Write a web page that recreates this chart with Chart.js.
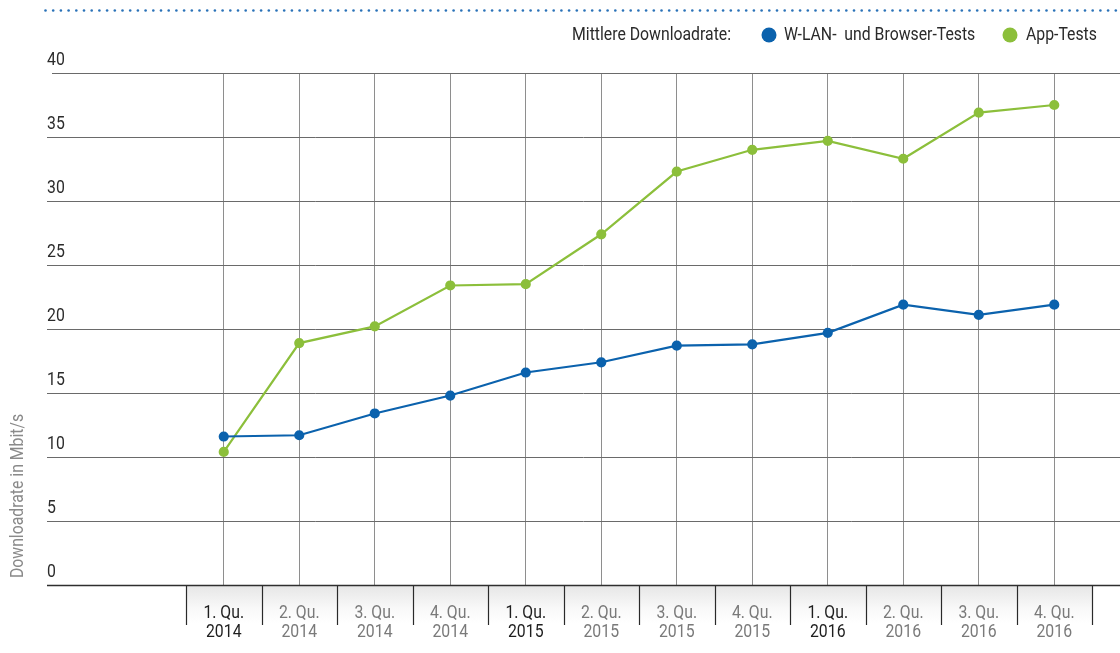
<!DOCTYPE html>
<html>
<head>
<meta charset="utf-8">
<script src="https://cdn.jsdelivr.net/npm/chart.js@4"></script>
<style>
  html, body { margin: 0; padding: 0; background: #fff; }
  #wrap { width: 1120px; height: 653px; position: relative; }
</style>
</head>
<body>
<div id="wrap"><canvas id="c" width="1120" height="653"></canvas></div>
<script>
// ---- data ----
const quarters = ["1. Qu.","2. Qu.","3. Qu.","4. Qu.","1. Qu.","2. Qu.","3. Qu.","4. Qu.","1. Qu.","2. Qu.","3. Qu.","4. Qu."];
const years = ["2014","2014","2014","2014","2015","2015","2015","2015","2016","2016","2016","2016"];
const wlanBrowserTests = [11.6, 11.7, 13.4, 14.8, 16.6, 17.4, 18.7, 18.8, 19.7, 21.9, 21.1, 21.9];
const appTests = [10.4, 18.9, 20.2, 23.4, 23.5, 27.4, 32.3, 34.0, 34.7, 33.3, 36.9, 37.5];
const yTicks = [0, 5, 10, 15, 20, 25, 30, 35, 40];
const legendTitle = "Mittlere Downloadrate:";
const seriesNames = ["W-LAN-  und Browser-Tests", "App-Tests"];
const yTitle = "Downloadrate in Mbit/s";

const BLUE = "#0b62ad";
const GREEN = "#8cbf3b";
const FONT = "400 18px Roboto, 'Noto Sans', sans-serif";
let SX = 0.8; // horizontal condensing factor, computed from legend title width

const labels = quarters.map((q, i) => [q, years[i]]);

function txt(ctx, s, x, y, align, color) {
  ctx.save();
  ctx.font = FONT;
  ctx.fillStyle = color;
  ctx.textAlign = align;
  ctx.translate(x, y);
  ctx.scale(SX, 1);
  ctx.fillText(s, 0, 0);
  ctx.restore();
}

const decor = {
  id: "decor",
  beforeDatasetsDraw(chart) {
    const ctx = chart.ctx;
    const y = chart.scales.y;
    ctx.save();
    ctx.font = FONT;
    SX = 159 / ctx.measureText(legendTitle).width;
    yTicks.forEach(v => {
      if (v === 0) return;
      const py = Math.round(y.getPixelForValue(v)) + 0.5;
      ctx.beginPath();
      ctx.strokeStyle = "#6a6a6a";
      ctx.lineWidth = 1;
      ctx.moveTo(v === 40 ? 52 : 47, py);
      ctx.lineTo(1120, py);
      ctx.stroke();
    });
    ctx.restore();
  },
  afterDraw(chart) {
    const ctx = chart.ctx;
    const y = chart.scales.y;
    const x = chart.scales.x;
    ctx.save();
    ctx.textBaseline = "alphabetic";
    // y tick labels
    yTicks.forEach(v => {
      const py = y.getPixelForValue(v);
      txt(ctx, String(v), 47, py - 8, "left", "#2b2b2b");
    });
    // y title
    ctx.save();
    ctx.translate(23, 496);
    ctx.rotate(-Math.PI / 2);
    txt(ctx, yTitle, 0, 0, "center", "#8a8a8a");
    ctx.restore();
    // category boxes
    const bottom = Math.round(y.getPixelForValue(0));
    const n = labels.length;
    const step = x.getPixelForValue(1) - x.getPixelForValue(0);
    const x0 = x.getPixelForValue(0) - step / 2;
    const g = ctx.createLinearGradient(0, bottom, 0, bottom + 38);
    g.addColorStop(0, "#e6e6e6");
    g.addColorStop(0.6, "#f8f8f8");
    g.addColorStop(1, "#ffffff");
    ctx.fillStyle = g;
    ctx.fillRect(x0, bottom + 1, step * n, 38);
    ctx.strokeStyle = "#2a2a2a";
    ctx.lineWidth = 1.2;
    for (let i = 0; i <= n; i++) {
      const px = Math.round(x0 + i * step) + 0.5;
      ctx.beginPath();
      ctx.moveTo(px, bottom);
      ctx.lineTo(px, bottom + 40);
      ctx.stroke();
    }
    // axis line
    ctx.beginPath();
    ctx.strokeStyle = "#2e2e2e";
    ctx.lineWidth = 1.5;
    ctx.moveTo(47, bottom + 0.5);
    ctx.lineTo(1120, bottom + 0.5);
    ctx.stroke();
    for (let i = 0; i < n; i++) {
      const cx = x.getPixelForValue(i);
      const col = quarters[i].startsWith("1.") ? "#1e1e1e" : "#7a7a7a";
      txt(ctx, labels[i][0], cx, bottom + 33, "center", col);
      txt(ctx, labels[i][1], cx, bottom + 52, "center", col);
    }
    // top dotted line
    ctx.fillStyle = "#2a72b8";
    for (let px = 45.5; px < 1120; px += 7.7) {
      ctx.beginPath();
      ctx.arc(px, 10.5, 1.3, 0, Math.PI * 2);
      ctx.fill();
    }
    // legend
    ctx.textBaseline = "middle";
    txt(ctx, legendTitle, 572, 35, "left", "#2a2a2a");
    ctx.fillStyle = BLUE;
    ctx.beginPath(); ctx.arc(769, 35, 7.5, 0, Math.PI * 2); ctx.fill();
    txt(ctx, seriesNames[0], 784, 35, "left", "#2a2a2a");
    ctx.fillStyle = GREEN;
    ctx.beginPath(); ctx.arc(1010, 35, 7.5, 0, Math.PI * 2); ctx.fill();
    txt(ctx, seriesNames[1], 1026, 35, "left", "#2a2a2a");
    ctx.restore();
  }
};

new Chart(document.getElementById("c"), {
  type: "line",
  data: {
    labels: labels,
    datasets: [
      { label: seriesNames[0], data: wlanBrowserTests, borderColor: BLUE, backgroundColor: BLUE,
        borderWidth: 2.2, pointRadius: 4, pointHoverRadius: 4, tension: 0 },
      { label: seriesNames[1], data: appTests, borderColor: GREEN, backgroundColor: GREEN,
        borderWidth: 2.2, pointRadius: 4, pointHoverRadius: 4, tension: 0 }
    ]
  },
  options: {
    responsive: false,
    animation: false,
    layout: { padding: { top: 73, bottom: 68, left: 186, right: 28 } },
    plugins: { legend: { display: false }, tooltip: { enabled: false } },
    scales: {
      x: {
        offset: true,
        grid: { offset: false, drawTicks: false, color: "#8e8e8e", lineWidth: 1 },
        ticks: { display: false },
        border: { display: false }
      },
      y: {
        display: false,
        min: 0,
        max: 40
      }
    }
  },
  plugins: [decor]
});
</script>
</body>
</html>
